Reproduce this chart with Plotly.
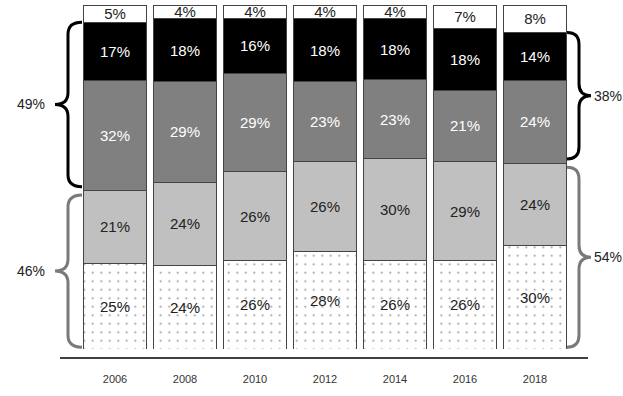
import plotly.graph_objects as go

years = ['2006', '2008', '2010', '2012', '2014', '2016', '2018']
dotted = [25, 24, 26, 28, 26, 26, 30]
light = [21, 24, 26, 26, 30, 29, 24]
mid = [32, 29, 29, 23, 23, 21, 24]
black = [17, 18, 16, 18, 18, 18, 14]
white = [5, 4, 4, 4, 4, 7, 8]

W, H = 623, 396
L, R, T, B = 80, 53, 5, 47
PW, PH = W - L - R, H - T - B
FONT = "Arial, Liberation Sans, sans-serif"

fig = go.Figure()

series = [
    (dotted, dict(color='white', pattern=dict(shape='.', fgcolor='#222', bgcolor='white', size=8.5, solidity=0.045)), '#222'),
    (light, dict(color='#c0c0c0'), '#222'),
    (mid, dict(color='#808080'), 'white'),
    (black, dict(color='#000000'), 'white'),
    (white, dict(color='white'), '#222'),
]
for vals, marker, tcol in series:
    marker = dict(marker)
    marker['line'] = dict(color='#444', width=1)
    fig.add_trace(go.Bar(
        x=years, y=vals, marker=marker,
        text=[f"{v}%" for v in vals], texttemplate='%{text}',
        textposition='inside', insidetextanchor='middle', textangle=0,
        textfont=dict(family=FONT, size=15, color=tcol),
        hoverinfo='skip', showlegend=False,
    ))


def X(x):
    return (x - L) / PW


def Y(y):
    return (H - B - y) / PH


def pct_to_px(p):
    return (H - B) - p / 100 * PH


def brace(x_end, x_body, x_tip, y_top, y_bot, r=12):
    ym = (y_top + y_bot) / 2
    pts = [
        ('M', [(x_end, y_top)]),
        ('Q', [(x_body, y_top), (x_body, y_top + r)]),
        ('L', [(x_body, ym - r)]),
        ('Q', [(x_body, ym), (x_tip, ym)]),
        ('Q', [(x_body, ym), (x_body, ym + r)]),
        ('L', [(x_body, y_bot - r)]),
        ('Q', [(x_body, y_bot), (x_end, y_bot)]),
    ]
    s = ''
    for cmd, ps in pts:
        s += cmd + ' ' + ' '.join(f"{X(a):.5f},{Y(b):.5f}" for a, b in ps) + ' '
    return s.strip(), ym


def add_brace(idx, side):
    tot = dotted[idx] + light[idx] + mid[idx] + black[idx] + white[idx]
    low = (dotted[idx] + light[idx]) / tot * 100
    high = (dotted[idx] + light[idx] + mid[idx] + black[idx]) / tot * 100
    low_lab = dotted[idx] + light[idx]
    high_lab = mid[idx] + black[idx]
    if side == 'left':
        xe, xb, xt, xl = 82, 68, 55, 31
    else:
        xe, xb, xt, xl = 567, 579, 591, 608
    for lo, hi, col, lab in [(0.5, low - 1.2, '#7a7a7a', low_lab), (low + 1.2, high, '#000000', high_lab)]:
        path, ym = brace(xe, xb, xt, pct_to_px(hi), pct_to_px(lo))
        fig.add_shape(type='path', path=path, xref='paper', yref='paper',
                      line=dict(color=col, width=3))
        fig.add_annotation(x=X(xl), y=Y(ym), xref='paper', yref='paper',
                           text=f"{lab}%", showarrow=False, xanchor='center', yanchor='middle',
                           font=dict(family=FONT, size=14, color='#222'))


add_brace(0, 'left')
add_brace(len(years) - 1, 'right')

# bottom axis line
fig.add_shape(type='line', xref='paper', yref='paper', x0=X(60), x1=X(588), y0=Y(358), y1=Y(358),
              line=dict(color='#000', width=1.5))

fig.update_layout(
    width=W, height=H, margin=dict(l=L, r=R, t=T, b=B, autoexpand=False),
    barmode='stack', barnorm='percent', bargap=0.1,
    paper_bgcolor='white', plot_bgcolor='white',
    uniformtext=dict(minsize=15, mode='show'),
    xaxis=dict(range=[-0.5, 6.5], showgrid=False, zeroline=False, showline=False, ticks='',
               ticklabelstandoff=22, tickfont=dict(family=FONT, size=11, color='#333')),
    yaxis=dict(range=[0, 100], visible=False),
)

fig.write_html("out.html", config={'displayModeBar': False},
               post_script="document.body.style.margin='0';document.body.style.padding='0';")
